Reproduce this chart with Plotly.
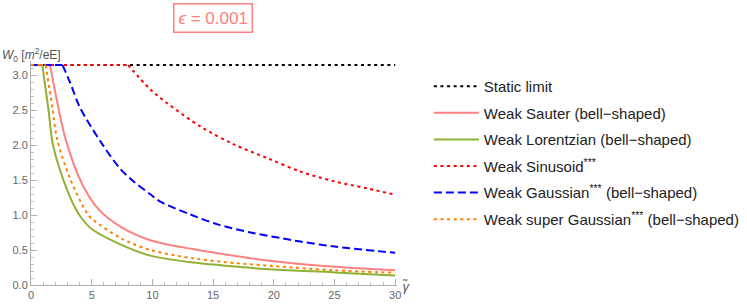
import plotly.graph_objects as go

PI = 3.14159

# ---- data ----
static_g = [0, 30]
static_w = [PI, PI]

sauter_break = 1.57
sauter_g = [1.57, 2.26, 2.87, 4.19, 5.57, 7.5, 9.83, 13.4, 17.0, 20.0, 25.0, 30.0]
sauter_w = [PI, 2.53, 2.07, 1.45, 1.08, 0.82, 0.64, 0.51, 0.41, 0.34, 0.26, 0.21]

lorentz_break = 0.93
lorentz_g = [0.93, 1.43, 1.79, 2.67, 3.64, 4.19, 5.0, 7.5, 9.83, 13.4, 17.0, 20.0, 25.0, 30.0]
lorentz_w = [PI, 2.52, 2.02, 1.50, 1.10, 0.95, 0.80, 0.57, 0.42, 0.32, 0.26, 0.22, 0.18, 0.135]

sinus_break = 8.0
sinus_g = [8.0, 9.8, 11.2, 14.0, 16.7, 19.5, 22.2, 25.0, 27.7, 30.0]
sinus_w = [PI, 2.80, 2.60, 2.26, 2.01, 1.81, 1.62, 1.48, 1.38, 1.29]

gauss_break = 2.6
gauss_g = [2.6, 3.2, 4.05, 5.84, 7.35, 8.45, 9.8, 10.66, 13.1, 15.3, 18.1, 20.6, 22.2, 25.0, 30.0]
gauss_w = [PI, 2.90, 2.53, 2.02, 1.66, 1.48, 1.30, 1.19, 1.01, 0.87, 0.75, 0.67, 0.62, 0.55, 0.46]

sgauss_break = 1.21
sgauss_g = [1.21, 1.76, 2.17, 3.22, 4.46, 5.0, 7.5, 9.83, 13.4, 17.0, 20.0, 25.0, 30.0]
sgauss_w = [PI, 2.53, 2.07, 1.52, 1.07, 0.95, 0.66, 0.50, 0.38, 0.31, 0.27, 0.21, 0.175]

names = ["Static limit", "Weak Sauter (bell\u2212shaped)", "Weak Lorentzian (bell\u2212shaped)",
         "Weak Sinusoid<sup>***</sup>", "Weak Gaussian<sup>***</sup> (bell\u2212shaped)",
         "Weak super Gaussian<sup>***</sup> (bell\u2212shaped)"]

x_ticks = [0, 5, 10, 15, 20, 25, 30]
y_ticks = [0, 0.5, 1.0, 1.5, 2.0, 2.5, 3.0]

DOT = "3px,3.6px"
DASH = "8px,4px"

fig = go.Figure()

def add(name, grp, brk, g, w, color, dash, width=2):
    if brk is not None:
        fig.add_trace(go.Scatter(x=[0, brk], y=[PI, PI], mode="lines",
                                 line=dict(color=color, dash=dash, width=width),
                                 legendgroup=grp, showlegend=False, hoverinfo="skip"))
    fig.add_trace(go.Scatter(x=g, y=w, mode="lines", name=name, legendgroup=grp,
                             line=dict(color=color, dash=dash, width=width,
                                       shape="spline", smoothing=0.9)))

fig.add_trace(go.Scatter(x=static_g, y=static_w, mode="lines", name=names[0], legendgroup="a",
                         line=dict(color="black", dash=DOT, width=2)))
add(names[1], "b", sauter_break, sauter_g, sauter_w, "rgb(255,128,128)", "solid")
add(names[2], "c", lorentz_break, lorentz_g, lorentz_w, "rgb(143,176,50)", "solid")
add(names[3], "d", sinus_break, sinus_g, sinus_w, "rgb(255,0,0)", DOT)
add(names[4], "e", gauss_break, gauss_g, gauss_w, "rgb(0,0,255)", DASH)
add(names[5], "f", sgauss_break, sgauss_g, sgauss_w, "rgb(255,128,0)", DOT)

axis_common = dict(showgrid=False, zeroline=False, showline=True, linecolor="#b0b0b0",
                   linewidth=1, ticks="inside", tickcolor="#b0b0b0", ticklen=6,
                   automargin=False,
                   tickfont=dict(size=11, color="#666666"))

fig.update_layout(
    width=747, height=306,
    margin=dict(l=31, r=350, t=61, b=21, autoexpand=False),
    paper_bgcolor="white", plot_bgcolor="white",
    font=dict(family="Liberation Sans", size=15, color="#222222"),
    xaxis=dict(range=[0, 30.15], tickvals=x_ticks, ticktext=[str(v) for v in x_ticks],
               minor=dict(dtick=1, ticklen=3, ticks="inside", tickcolor="#c0c0c0"),
               **axis_common),
    yaxis=dict(range=[0, 3.2], tickvals=y_ticks, ticktext=[f"{v:.1f}" for v in y_ticks],
               minor=dict(dtick=0.1, ticklen=3, ticks="inside", tickcolor="#c0c0c0"),
               **axis_common),
    showlegend=True,
    legend=dict(x=1.087, xanchor="left", y=0.96, yanchor="top",
                font=dict(size=15, color="#222222"), tracegroupgap=4.1,
                itemwidth=45, bgcolor="rgba(0,0,0,0)"),
)

fig.add_annotation(xref="paper", yref="paper", x=(213 - 31) / 366, y=(285 - 18) / 224,
                   xanchor="center", yanchor="middle", showarrow=False,
                   text="<i>\u03f5</i> = 0.001", font=dict(size=17, color="rgb(255,128,128)"),
                   bordercolor="rgb(255,128,128)", borderwidth=1.5, borderpad=4, bgcolor="white")
fig.add_annotation(xref="paper", yref="paper", x=-31 / 366, y=(285 - 55) / 224,
                   xanchor="left", yanchor="middle", showarrow=False,
                   text="<i>W</i><sub>0</sub> [<i>m</i><sup>2</sup>/eE]",
                   font=dict(size=12, color="#555555"))
fig.add_annotation(xref="paper", yref="paper", x=(400 - 31) / 366, y=(285 - 286) / 224,
                   xanchor="left", yanchor="middle", showarrow=False,
                   text="<i>\u03b3\u0303</i>", font=dict(size=13, color="#555555"))

fig.write_html("out.html", config={"displayModeBar": False},
               post_script="document.body.style.margin='0';")
